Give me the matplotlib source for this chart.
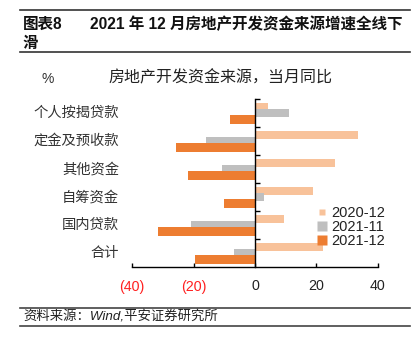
import matplotlib
matplotlib.use("Agg")
import matplotlib.pyplot as plt
from matplotlib.lines import Line2D
from matplotlib.transforms import blended_transform_factory
import numpy as np

plt.rcParams['font.family'] = ['Liberation Sans', 'Noto Sans CJK SC', 'DejaVu Sans']

categories = ["个人按揭贷款", "定金及预收款", "其他资金", "自筹资金", "国内贷款", "合计"]
series_names = ["2020-12", "2021-11", "2021-12"]
v_2020_12 = [4.1, 33.7, 26.1, 19.0, 9.6, 22.3]
v_2021_11 = [11.1, -16.1, -10.6, 2.9, -20.8, -7.0]
v_2021_12 = [-8.1, -25.9, -22.0, -10.2, -31.7, -19.6]
xticks = [-40, -20, 0, 20, 40]
xticklabels = ["(40)", "(20)", "0", "20", "40"]

colors = ["#F8C29A", "#BFBFBF", "#ED7D31"]

W, H = 420, 345
fig = plt.figure(figsize=(W / 100, H / 100), dpi=100)

def fx(px):
    return px / W

def fy(py):
    return 1 - py / H

ax = fig.add_axes([fx(132.3), fy(267), fx(377.7) - fx(132.3), fy(99.3) - fy(267)])

y = np.arange(len(categories))
offsets = [-0.225, 0.0, 0.225]
for vals, off, c in zip([v_2020_12, v_2021_11, v_2021_12], offsets, colors):
    ax.barh(y + off, vals, height=0.3, color=c, edgecolor='none', zorder=2)

ax.set_xlim(-40, 40)
ax.set_ylim(len(categories) - 0.5, -0.5)

for s in ['top', 'right']:
    ax.spines[s].set_visible(False)
for s in ['left', 'bottom']:
    ax.spines[s].set_linewidth(1.0)
    ax.spines[s].set_color('black')
ax.spines['left'].set_position(('data', 0))
ax.spines['left'].set_zorder(3)

ax.set_xticks(xticks)
ax.set_xticklabels(xticklabels)
for lab, v in zip(ax.get_xticklabels(), xticks):
    lab.set_color('#FF2020' if v < 0 else '#222222')
ax.tick_params(axis='x', direction='in', length=3, width=1, pad=9, labelsize=10.3)

ax.set_yticks([])
ax.set_yticks(np.arange(-0.5, len(categories) - 1, 1.0), minor=True)
ax.tick_params(axis='y', which='minor', direction='in', length=3.6, width=1, labelleft=False)

lab_tr = blended_transform_factory(fig.transFigure, ax.transData)
for yi, cat in zip(y, categories):
    ax.text(fx(119), yi, cat, transform=lab_tr, ha='right', va='center',
            fontsize=10.3, color='#333333')

handles = [
    Line2D([], [], linestyle='none', marker='s', markersize=4.8, markerfacecolor=colors[0], markeredgecolor='none'),
    Line2D([], [], linestyle='none', marker='s', markersize=6.8, markerfacecolor=colors[1], markeredgecolor='none'),
    Line2D([], [], linestyle='none', marker='s', markersize=7.5, markerfacecolor=colors[2], markeredgecolor='none'),
]
leg = ax.legend(handles, series_names, loc='upper left', bbox_to_anchor=(fx(315), fy(206)),
                bbox_transform=fig.transFigure, frameon=False, fontsize=10.5,
                handlelength=0.9, handletextpad=0.2, labelspacing=0.0,
                borderpad=0, borderaxespad=0)
for t in leg.get_texts():
    t.set_color('#222222')

# Header
fig.add_artist(Line2D([fx(20), fx(410)], [fy(10), fy(10)], color='#333333', lw=1.2))
fig.add_artist(Line2D([fx(20), fx(410)], [fy(51.7), fy(51.7)], color='#333333', lw=1.2))
fig.text(fx(22.5), fy(24), "图表8", fontsize=11.2, fontweight='bold', va='center', ha='left', color='#111111')
fig.text(fx(90), fy(24), "2021 年 12 月房地产开发资金来源增速全线下", fontsize=11.2,
         fontweight='bold', va='center', ha='left', color='#111111')
fig.text(fx(22.5), fy(43), "滑", fontsize=11.2, fontweight='bold', va='center', ha='left', color='#111111')

# Chart title
fig.text(fx(48), fy(79), "%", fontsize=10, va='center', ha='center', color='#333333')
fig.text(fx(220.5), fy(78), "房地产开发资金来源，当月同比", fontsize=11.5, fontweight='medium',
         va='center', ha='center', color='#222222')

# Footer
fig.add_artist(Line2D([fx(20), fx(410)], [fy(307.5), fy(307.5)], color='#444444', lw=1.2))
fig.add_artist(Line2D([fx(20), fx(410)], [fy(326), fy(326)], color='#444444', lw=1.2))
fig.text(fx(23), fy(316.7), "资料来源：Wind,平安证券研究所", fontsize=9.6, style='italic',
         va='center', ha='left', color='#222222')

fig.savefig("out.png", dpi=100)
